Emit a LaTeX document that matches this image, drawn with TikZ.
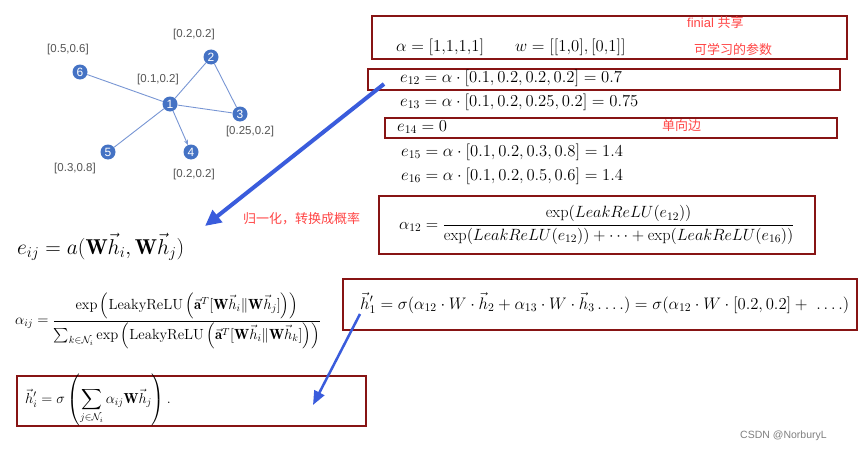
\RequirePackage{fix-cm}
\documentclass[tikz,border=0pt]{standalone}
\usepackage{amsmath}
\usepackage{fontspec}
\newfontfamily\cjk{Noto Sans CJK SC}
\newfontfamily\lsans{Liberation Sans}
\usetikzlibrary{arrows.meta}
\definecolor{boxred}{RGB}{135,20,20}
\definecolor{nodeblue}{RGB}{68,114,196}
\definecolor{edgeblue}{RGB}{120,150,212}
\definecolor{arrblue}{RGB}{58,92,220}
\definecolor{redc}{RGB}{255,70,70}
\definecolor{labgray}{RGB}{85,85,85}
\begin{document}
\begin{tikzpicture}[x=1pt,y=-1pt,
  gnode/.style={circle,fill=nodeblue,minimum size=15pt,inner sep=0pt,text=white,font=\lsans\fontsize{12}{12}\selectfont},
  glabel/.style={text=labgray,font=\lsans\fontsize{11.5}{12}\selectfont,inner sep=0pt},
  gedge/.style={draw=edgeblue,line width=0.9pt},
  boxnode/.style={draw=boxred,line width=2pt,inner sep=0pt},
  eq/.style={anchor=west,inner sep=0pt,font=\fontsize{16.7}{20}\selectfont},
  redtxt/.style={text=redc,font=\cjk\fontsize{13}{14}\selectfont,inner sep=0pt},
  bigarrow/.style={draw=arrblue,line width=4pt,-{Triangle[length=16pt,width=15pt]}},
  smallarrow/.style={draw=arrblue,line width=2.5pt,-{Triangle[length=14pt,width=11pt]}}]
\useasboundingbox[fill=white] (0,0) rectangle (861,452);

% graph
\node[gnode] (n1) at (170,104) {1};
\node[gnode] (n2) at (211,57) {2};
\node[gnode] (n3) at (240,114) {3};
\node[gnode] (n4) at (191,152) {4};
\node[gnode] (n5) at (108,152) {5};
\node[gnode] (n6) at (80,72) {6};
\draw[gedge] (n1) -- (n6);
\draw[gedge] (n1) -- (n2);
\draw[gedge] (n2) -- (n3);
\draw[gedge] (n1) -- (n3);
\draw[gedge] (n1) -- (n5);
\draw[gedge,-{Stealth[length=5pt,width=4pt]}] (n1) -- (n4);
\node[glabel] (l6) at (68,50) {[0.5,0.6]};
\node[glabel] (l2) at (194,35) {[0.2,0.2]};
\node[glabel] (l1) at (158,80) {[0.1,0.2]};
\node[glabel] (l3) at (250,132) {[0.25,0.2]};
\node[glabel] (l5) at (75,169) {[0.3,0.8]};
\node[glabel] (l4) at (194,175) {[0.2,0.2]};

% boxes
\node[boxnode,minimum width=475pt,minimum height=43pt] (bA) at (609.5,37.5) {};
\node[boxnode,minimum width=472pt,minimum height=21pt] (bB) at (604,79.5) {};
\node[boxnode,minimum width=452pt,minimum height=20pt] (bC) at (610.5,127.5) {};
\node[boxnode,minimum width=436pt,minimum height=58pt] (bD) at (597,225) {};
\node[boxnode,minimum width=514pt,minimum height=51pt] (bE) at (600,304) {};
\node[boxnode,minimum width=349pt,minimum height=50pt] (bF) at (191.5,401) {};

% box A content
\node[eq] (alpha) at (396,47) {$\alpha = [1{,}1{,}1{,}1]$};
\node[eq] (w) at (515,47) {$w = [[1{,}0], [0{,}1]]$};
\node[redtxt,anchor=west] (finial) at (687,23) {\lsans finial \cjk 共享};
\node[redtxt,anchor=west] (learn) at (694,50) {可学习的参数};

% e lines
\node[eq] (e12) at (400,78) {$e_{12} = \alpha\cdot[0.1, 0.2, 0.2, 0.2] = 0.7$};
\node[eq] (e13) at (400,102) {$e_{13} = \alpha\cdot[0.1, 0.2, 0.25, 0.2] = 0.75$};
\node[eq] (e14) at (397,127) {$e_{14} = 0$};
\node[redtxt,anchor=west] (single) at (662,126) {单向边};
\node[eq] (e15) at (401,152) {$e_{15} = \alpha\cdot[0.1, 0.2, 0.3, 0.8] = 1.4$};
\node[eq] (e16) at (401,176) {$e_{16} = \alpha\cdot[0.1, 0.2, 0.5, 0.6] = 1.4$};

% alpha12
\node[anchor=west,inner sep=0pt,font=\fontsize{16.3}{20}\selectfont] (a12) at (399,225) {$\alpha_{12} = \dfrac{\exp(LeakReLU(e_{12}))}{\exp(LeakReLU(e_{12})) + \cdots + \exp(LeakReLU(e_{16}))}$};

% box E
\node[eq] (hE) at (360,303) {$\vec{h}'_1 = \sigma(\alpha_{12}\cdot W\cdot \vec{h}_2 + \alpha_{13}\cdot W\cdot\vec{h}_3 \ldots.) = \sigma(\alpha_{12}\cdot W\cdot [0.2, 0.2] + \ \ldots.)$};

% left formulas
\node[anchor=west,inner sep=0pt,font=\fontsize{21.5}{24}\selectfont] (eij) at (17,247) {$e_{ij} = a(\mathbf{W}\vec{h}_i, \mathbf{W}\vec{h}_j)$};
\node[anchor=west,inner sep=0pt,font=\fontsize{14.7}{16}\selectfont] (aij) at (15,321) {$\alpha_{ij} = \dfrac{\exp\left(\mathrm{LeakyReLU}\left(\vec{\mathbf{a}}^T[\mathbf{W}\vec{h}_i\|\mathbf{W}\vec{h}_j]\right)\right)}{\sum_{k\in\mathcal{N}_i}\exp\left(\mathrm{LeakyReLU}\left(\vec{\mathbf{a}}^T[\mathbf{W}\vec{h}_i\|\mathbf{W}\vec{h}_k]\right)\right)}$};
\node[anchor=west,inner sep=0pt,font=\fontsize{14.5}{16}\selectfont] (hF) at (25,400) {$\displaystyle\vec{h}'_i = \sigma\left(\sum_{j\in\mathcal{N}_i}\alpha_{ij}\mathbf{W}\vec{h}_j\right).$};

\node[redtxt,anchor=west] (norm) at (243,219) {归一化，转换成概率};

% arrows
\coordinate (s1) at (384,84);
\coordinate (t1) at (205,226);
\draw[bigarrow] (s1) -- (t1);
\coordinate (s2) at (360,314);
\coordinate (t2) at (313,405);
\draw[smallarrow] (s2) -- (t2);

\node[anchor=west,inner sep=0pt,text=gray,font=\lsans\fontsize{10.5}{12}\selectfont] (wm) at (740,436) {CSDN @NorburyL};
\end{tikzpicture}
\end{document}
